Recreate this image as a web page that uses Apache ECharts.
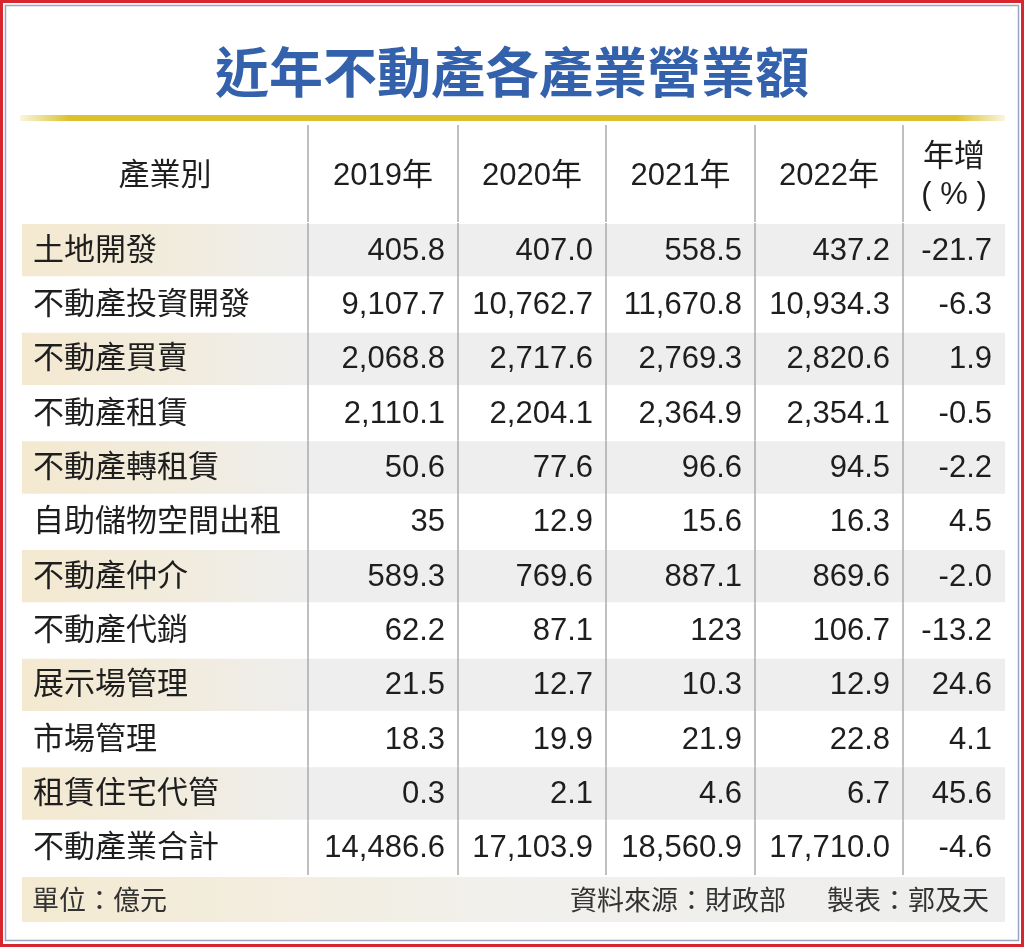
<!DOCTYPE html>
<html>
<head>
<meta charset="utf-8">
<script src="https://cdn.jsdelivr.net/npm/echarts@6/dist/echarts.min.js"></script>
<style>
  html, body { margin: 0; padding: 0; background: #fff; }
  #main { width: 1024px; height: 947px; }
</style>
</head>
<body>
<div id="main"></div>
<script>
var titleText = '近年不動產各產業營業額';
var headers = ['產業別', '2019年', '2020年', '2021年', '2022年', '年增\n( % )'];
var industries = ['土地開發', '不動產投資開發', '不動產買賣', '不動產租賃', '不動產轉租賃',
  '自助儲物空間出租', '不動產仲介', '不動產代銷', '展示場管理', '市場管理', '租賃住宅代管', '不動產業合計'];
var y2019 = ['405.8', '9,107.7', '2,068.8', '2,110.1', '50.6', '35', '589.3', '62.2', '21.5', '18.3', '0.3', '14,486.6'];
var y2020 = ['407.0', '10,762.7', '2,717.6', '2,204.1', '77.6', '12.9', '769.6', '87.1', '12.7', '19.9', '2.1', '17,103.9'];
var y2021 = ['558.5', '11,670.8', '2,769.3', '2,364.9', '96.6', '15.6', '887.1', '123', '10.3', '21.9', '4.6', '18,560.9'];
var y2022 = ['437.2', '10,934.3', '2,820.6', '2,354.1', '94.5', '16.3', '869.6', '106.7', '12.9', '22.8', '6.7', '17,710.0'];
var growth = ['-21.7', '-6.3', '1.9', '-0.5', '-2.2', '4.5', '-2.0', '-13.2', '24.6', '4.1', '45.6', '-4.6'];
var unitNote = '單位：億元';
var sourceNote = '資料來源：財政部';
var creditNote = '製表：郭及天';

// column edges in x-axis units (1 unit = 1px of grid width)
var COL_EDGES = [0, 286, 436, 584, 733, 881, 983];
var FONT = '"Liberation Sans", "Noto Sans CJK TC", sans-serif';
var CJK = '"Noto Sans CJK TC", sans-serif';
var LINE_COLOR = '#aaaaaa';

var columns = [industries, y2019, y2020, y2021, y2022, growth];

var headerCells = headers.map(function (h, c) { return [c, 0]; });
var bodyCells = [];
industries.forEach(function (name, r) {
  columns.forEach(function (col, c) {
    bodyCells.push([c, r]);
  });
});

function cellBox(api, c, r) {
  var a = api.coord([COL_EDGES[c], r]);
  var b = api.coord([COL_EDGES[c + 1], r]);
  var h = api.size([0, 1])[1];
  return { x0: a[0], x1: b[0], cy: a[1], top: a[1] - h / 2, h: h };
}

function renderHeader(params, api) {
  var c = api.value(0);
  var box = cellBox(api, c, 0);
  var children = [];
  if (c > 0) {
    children.push({ type: 'line', shape: { x1: box.x0, y1: box.top, x2: box.x0, y2: box.top + box.h },
      style: { stroke: LINE_COLOR, lineWidth: 1.5 } });
  }
  children.push({
    type: 'text',
    style: {
      text: headers[c], x: (box.x0 + box.x1) / 2, y: box.cy + 3,
      textAlign: 'center', textVerticalAlign: 'middle',
      font: '31px ' + FONT, fill: '#1e1e1e', lineHeight: 38
    }
  });
  return { type: 'group', children: children };
}

var beigeFill = {
  type: 'linear', x: 0, y: 0, x2: 1, y2: 0,
  colorStops: [{ offset: 0, color: '#f4e9d0' }, { offset: 0.6, color: '#f1ecdf' }, { offset: 1, color: '#eeeeee' }]
};

function renderBody(params, api) {
  var c = api.value(0), r = api.value(1);
  var box = cellBox(api, c, r);
  var children = [];
  if (r % 2 === 0) {
    children.push({ type: 'rect', shape: { x: box.x0, y: box.top + 1, width: box.x1 - box.x0, height: box.h - 2 },
      style: { fill: c === 0 ? beigeFill : '#eeeeee' } });
  }
  if (c > 0) {
    children.push({ type: 'line', shape: { x1: box.x0, y1: box.top, x2: box.x0, y2: box.top + box.h },
      style: { stroke: LINE_COLOR, lineWidth: 1.5 } });
  }
  children.push({
    type: 'text',
    style: {
      text: columns[c][r],
      x: c === 0 ? box.x0 + 11 : box.x1 - 13,
      y: box.cy + 1,
      textAlign: c === 0 ? 'left' : 'right', textVerticalAlign: 'middle',
      font: '31px ' + FONT, fill: '#1e1e1e'
    }
  });
  return { type: 'group', children: children };
}

var chart = echarts.init(document.getElementById('main'));

var option = {
  backgroundColor: '#ffffff',
  animation: false,
  title: {
    text: titleText, left: 'center', top: 40,
    textStyle: { fontFamily: CJK, fontSize: 54, fontWeight: 'bold', color: '#3461ab' }
  },
  grid: [
    { left: 22, right: 19, top: 125, height: 97 },
    { left: 22, right: 19, top: 223, height: 652 }
  ],
  xAxis: [
    { type: 'value', gridIndex: 0, min: 0, max: 983, show: false },
    { type: 'value', gridIndex: 1, min: 0, max: 983, show: false }
  ],
  yAxis: [
    { type: 'category', gridIndex: 0, data: ['header'], show: false },
    { type: 'category', gridIndex: 1, data: industries, inverse: true, show: false }
  ],
  series: [
    { type: 'custom', xAxisIndex: 0, yAxisIndex: 0, data: headerCells, renderItem: renderHeader, silent: true },
    { type: 'custom', xAxisIndex: 1, yAxisIndex: 1, data: bodyCells, renderItem: renderBody, silent: true }
  ],
  graphic: [
    { type: 'rect', shape: { x: 1.5, y: 1.5, width: 1021, height: 944 }, style: { fill: 'none', stroke: '#d7262d', lineWidth: 3 } },
    { type: 'rect', shape: { x: 5.5, y: 5.5, width: 1013, height: 935 }, style: { fill: 'none', stroke: '#9aa5c2', lineWidth: 1.5 } },
    { type: 'rect', shape: { x: 20, y: 115, width: 985, height: 6 },
      style: { fill: { type: 'linear', x: 0, y: 0, x2: 1, y2: 0, colorStops: [
        { offset: 0, color: 'rgba(220,192,40,0.15)' }, { offset: 0.05, color: '#dcc12e' },
        { offset: 0.95, color: '#dcc12e' }, { offset: 1, color: 'rgba(220,192,40,0.15)' }] } } },
    { type: 'rect', shape: { x: 22, y: 877, width: 983, height: 45 },
      style: { fill: { type: 'linear', x: 0, y: 0, x2: 1, y2: 0, colorStops: [
        { offset: 0, color: '#f4ead1' }, { offset: 0.5, color: '#f1f0ec' }, { offset: 1, color: '#eeeeee' }] } } },
    { type: 'text', style: { text: unitNote, x: 32, y: 900, textVerticalAlign: 'middle',
      font: '27px ' + CJK, fill: '#333' } },
    { type: 'text', style: { text: sourceNote, x: 786, y: 900, textAlign: 'right', textVerticalAlign: 'middle',
      font: '27px ' + CJK, fill: '#333' } },
    { type: 'text', style: { text: creditNote, x: 989, y: 900, textAlign: 'right', textVerticalAlign: 'middle',
      font: '27px ' + CJK, fill: '#333' } }
  ]
};

chart.setOption(option);
</script>
</body>
</html>
